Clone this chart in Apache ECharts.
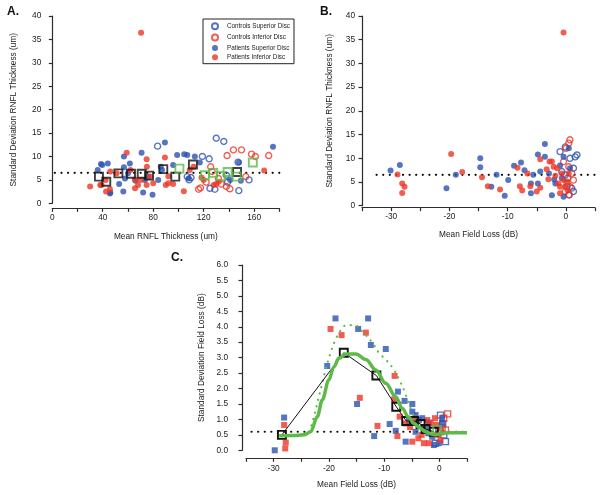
<!DOCTYPE html>
<html><head><meta charset="utf-8">
<script src="https://cdn.jsdelivr.net/npm/echarts@6/dist/echarts.min.js"></script>
<style>html,body{margin:0;padding:0;background:#fff}#c{width:603px;height:495px}</style>
</head><body><div id="c"></div>
<script>
// ---------- Panel A: Mean RNFL thickness vs SD RNFL thickness ----------
const A_ctrlSup = [[83.5,12.2],[107,5.7],[108.5,5.0],[119,10],[124.4,9.5],[125,3.2],[128.9,3.0],[130,13.9],[136,13.2],[138,6.0],[139,4.5],[147.3,8.8],[147.9,2.7],[156,5.0],[110,5.5]];
const A_ctrlInf = [[116,3.0],[117.5,3.3],[122,4.5],[125.6,7.8],[126.7,6.8],[131.7,5.3],[134,4.1],[138,3.6],[138.6,10.2],[140.8,3.1],[143.6,11.4],[150,11.4],[153.4,5.7],[158,10.5],[161,10.0],[171.6,10.2]];
const A_patSup = [[36,7.1],[38.6,8.4],[39.6,8.2],[44,8.5],[46,2.3],[45.7,2.1],[53,4.1],[56.3,2.5],[56.8,10.0],[56.8,7.7],[57.7,5.3],[60,6.4],[61.5,8.5],[66,4.8],[70.8,10.8],[72,2.3],[73.4,5.0],[76,5.7],[79.5,1.8],[84,5.0],[86,7.8],[89.3,13.0],[87,7.1],[95.8,8.2],[99,10.3],[104.6,10.5],[107,10.3],[108,5.3],[113,10.0],[117,8.7],[141,5.0],[148,8.7],[149.5,4.8],[175,12.1]];
const A_patInf = [[30,3.6],[38,3.9],[39,3.9],[42.3,5.0],[42.6,2.5],[45.7,3.0],[46,6.8],[51,6.4],[59,10.8],[62,7.1],[65.5,5.1],[65.6,3.2],[68,3.9],[70,5.0],[70.4,36.4],[74.8,9.4],[75,7.8],[74.8,3.9],[77.4,5.7],[80,4.3],[89.3,9.8],[90,3.9],[92,5.8],[92,4.3],[95.8,4.1],[104.3,2.6],[109,7.1],[112,7.8],[118.3,5.5],[120,5.0],[128,3.9],[130,4.1],[132,4.6],[168,7.0]];
const A_patMeans = [[37,5.7],[42.8,4.6],[52.4,6.4],[62.4,6.3],[70.9,6.3],[76.7,5.9],[88,7.3],[97.5,5.7],[111.5,8.3],[146.5,6.7]];
const A_ctrlMeans = [[100.8,7.4],[121,6.0],[127.6,6.5],[133.5,5.8],[139,6.7],[146.2,5.7],[159,8.7]];
const A_ref = [[2,6.5],[180,6.5]];
const A_xTicks = {min:0, max:180, step:20, labelEvery:40};
const A_yTicks = {min:0, max:40, step:5};

// ---------- Panel B: Mean field loss vs SD RNFL thickness ----------
const B_ctrlSup = [[-1,11.4],[-0.1,12.4],[0.7,10.0],[1.6,10.3],[1.9,10.7],[1.3,7.9],[0.2,4.0],[1.0,3.7],[1.3,3.0],[0.5,2.3],[-0.1,6.5],[-0.7,7.2],[0.3,5.8]];
const B_ctrlInf = [[0.7,13.9],[0.5,13.2],[0,12.1],[-0.4,9.3],[0.5,8.2],[1.0,6.8],[1.3,5.4],[0.7,4.0],[-0.1,3.0],[0.6,2.3],[0.2,4.7]];
const B_patSup = [[-30.1,7.4],[-28.5,8.6],[-20.5,3.7],[-18.9,6.5],[-14.7,10.0],[-14.7,8.1],[-12.8,4.0],[-11.9,6.5],[-10.5,2.1],[-9.9,5.4],[-8.9,8.4],[-7.7,9.1],[-7.1,7.5],[-6.0,4.7],[-6.0,2.6],[-5.6,6.5],[-4.8,10.8],[-4.8,4.7],[-4.4,7.2],[-3.6,13.0],[-3.6,10.3],[-2.9,6.8],[-2.4,2.2],[-1.8,4.7],[-0.4,10.3],[-0.4,1.9],[0.5,12.1],[0.7,7.9],[-1.0,8.5],[-2.0,5.5],[-0.7,5.8]];
const B_patInf = [[-28.9,6.6],[-28.1,4.7],[-27.7,4.0],[-28.1,2.7],[-19.7,10.9],[-17.8,7.1],[-14.4,6.0],[-13.4,4.1],[-11.3,3.4],[-8.3,8.0],[-7.9,4.1],[-7.5,3.2],[-6.6,6.8],[-6.1,4.1],[-5.0,3.0],[-4.4,9.8],[-4.4,3.8],[-3.3,7.7],[-3.0,5.6],[-2.8,9.3],[-2.4,9.3],[-2.1,8.2],[-1.5,7.9],[-1.3,4.7],[-1.0,4.0],[-1.0,2.6],[-0.7,6.8],[-0.4,5.4],[-0.4,36.5],[0.2,5.1],[-0.1,4.0],[0.5,6.8],[-1.8,6.3],[0.3,3.2]];
const B_ref = [[-32.5,6.5],[5,6.5]];
const B_xTicks = {min:-35, max:5, step:5, labelEvery:10};
const B_yTicks = {min:0, max:40, step:5};

// ---------- Panel C: Mean field loss vs SD field loss ----------
const C_ctrlSup = [[0.2,1.14],[0.8,0.5],[1.1,0.28],[-0.1,0.66],[-0.7,0.23],[0.6,0.85]];
const C_ctrlInf = [[1.5,1.18],[0.8,1.04],[0.5,0.73],[1.1,0.66],[0.2,0.6]];
const C_patSup = [[-29.8,0.0],[-28.1,1.06],[-20.3,2.73],[-18.8,4.27],[-14.7,3.93],[-12.9,4.27],[-12.4,3.41],[-9.7,3.28],[-14.9,1.5],[-11.8,0.46],[-9.0,0.85],[-7.5,1.9],[-7.9,0.63],[-6.3,1.6],[-6.1,0.28],[-4.9,1.5],[-4.9,1.25],[-4.3,1.14],[-4.3,0.6],[-3.7,0.98],[-3.1,1.04],[-2.5,0.71],[-1.9,0.9],[-1.3,0.44],[-1.0,0.17],[0.5,1.04],[0.5,0.87],[-0.1,0.23],[-5.5,0.95],[-2.0,0.55]];
const C_patInf = [[-28.1,0.82],[-27.8,0.25],[-27.9,0.06],[-19.7,3.93],[-17.7,3.73],[-13.3,3.81],[-14.4,1.7],[-11.2,0.79],[-8.1,2.41],[-7.6,0.46],[-8.2,1.65],[-7.2,1.09],[-6.1,0.87],[-4.9,0.28],[-4.6,1.0],[-3.8,0.39],[-3.2,0.5],[-2.8,0.23],[-2.2,0.98],[-1.6,0.87],[-0.8,1.04],[-0.6,0.82],[-0.4,0.5],[-1.9,0.23],[0.2,0.33],[-5.3,0.75]];
const C_means = [[-28.5,0.5],[-17.3,3.16],[-11.4,2.42],[-7.8,1.41],[-6.0,0.95],[-4.6,0.95],[-3.4,0.85],[-2.5,0.69],[-1.0,0.6]];
const C_ctrlMean = [[-0.4,0.66]];
const C_fit = [[-29,0.47],[-26.5,0.48],[-24.5,0.5],[-23.3,0.6],[-22.1,1.09],[-21.2,1.63],[-20,2.28],[-19.1,2.7],[-18.2,2.98],[-16.9,3.12],[-15.1,3.12],[-13.3,2.94],[-11.5,2.6],[-9.7,2.17],[-7.9,1.73],[-6.7,1.35],[-5.6,1.08],[-4.6,0.87],[-3.5,0.72],[-2.5,0.6],[-1.5,0.53],[-0.7,0.5],[0.3,0.55],[2,0.57],[5,0.57]];
const C_dotted = [[-23.5,0.6],[-22.7,1.1],[-22.0,1.6],[-21.3,2.1],[-20.6,2.6],[-19.8,3.1],[-19.0,3.5],[-18.0,3.85],[-16.8,4.05],[-15.4,4.05],[-14.0,3.85],[-12.2,3.5],[-10.9,3.15],[-9.5,2.9],[-8.2,2.6],[-7.3,2.3],[-6.4,1.95],[-5.6,1.55],[-4.8,1.2],[-3.8,0.9],[-2.8,0.72],[-1.5,0.62]];
const C_ref = [[-34,0.6],[5,0.6]];
const C_xTicks = {min:-35, max:5, step:5, labelEvery:10};
const C_yTicks = {min:0, max:6, step:0.5};

const seriesNames = ['Controls Superior Disc','Controls Inferior Disc','Patients Superior Disc','Patients Inferior Disc'];
const panelLabels = ['A.','B.','C.'];
const xNames = ['Mean RNFL Thickness (um)','Mean Field Loss (dB)','Mean Field Loss (dB)'];
const yNames = ['Standard Deviation RNFL Thickness (um)','Standard Deviation RNFL Thickness (um)','Standard Deviation Field Loss (dB)'];

// ---------- styling ----------
const BLUE = '#2a52b0', RED = '#ee3626', GREEN = '#5dba48', AX = '#332a2a', TXT = '#1a1a1a';
const FONT = 'Liberation Sans, Arial, sans-serif';

const chart = echarts.init(document.getElementById('c'), null, {renderer:'canvas'});

function xAxis(gi, t, name, offset, margin, nameGap) {
  return {
    type:'value', gridIndex:gi, min:t.min, max:t.max, interval:t.step, offset:offset,
    name:name, nameLocation:'middle', nameGap:nameGap,
    nameTextStyle:{fontFamily:FONT, fontSize:8.3, color:TXT},
    axisLine:{show:true, onZero:false, lineStyle:{color:AX, width:1.2}},
    axisTick:{show:true, length:3.5, lineStyle:{color:AX, width:1.2}},
    axisLabel:{margin:margin, fontFamily:FONT, fontSize:8.3, color:TXT,
      formatter: v => (Math.abs(v % t.labelEvery) < 1e-9 ? String(v) : '')},
    splitLine:{show:false}
  };
}
function yAxis(gi, t, name, offset, margin, nameGap, dec) {
  return {
    type:'value', gridIndex:gi, min:t.min, max:t.max, interval:t.step, offset:offset,
    name:name, nameLocation:'middle', nameGap:nameGap,
    nameTextStyle:{fontFamily:FONT, fontSize:8.3, color:TXT},
    axisLine:{show:true, onZero:false, lineStyle:{color:AX, width:1.2}},
    axisTick:{show:true, length:3.5, lineStyle:{color:AX, width:1.2}},
    axisLabel:{margin:margin, fontFamily:FONT, fontSize:8.3, color:TXT,
      formatter: v => dec ? v.toFixed(dec) : String(v)},
    splitLine:{show:false}
  };
}

function pts(gi, name, data, color, hollow, symbol) {
  return {
    type:'scatter', name:name, xAxisIndex:gi, yAxisIndex:gi, data:data, clip:false,
    symbol:symbol, symbolSize:6,
    itemStyle: hollow ? {color:'rgba(255,255,255,0)', borderColor:color, borderWidth:1.4}
                      : {color:color, borderWidth:0},
    emphasis:{disabled:true}, z:2
  };
}
function refLine(gi, data) {
  return {type:'line', xAxisIndex:gi, yAxisIndex:gi, data:data, symbol:'none', silent:true,
    lineStyle:{color:'#111', width:2.2, type:[0.1,6.5], cap:'round'}, z:1};
}
function means(gi, data, color, withLine) {
  return {type: withLine ? 'line' : 'scatter', xAxisIndex:gi, yAxisIndex:gi, data:data,
    symbol:'rect', symbolSize:8, showSymbol:true, clip:false,
    itemStyle:{color:'rgba(255,255,255,0)', borderColor:color, borderWidth:1.9},
    lineStyle: withLine ? {color:'#111', width:1} : undefined, z:5, silent:true};
}
function panelSeries(gi, cs, ci, ps, pi, symbol) {
  return [pts(gi, seriesNames[0], cs, BLUE, true, symbol), pts(gi, seriesNames[1], ci, RED, true, symbol),
          pts(gi, seriesNames[2], ps, BLUE, false, symbol), pts(gi, seriesNames[3], pi, RED, false, symbol)];
}

const series = [].concat(
  panelSeries(0, A_ctrlSup, A_ctrlInf, A_patSup, A_patInf, 'circle'),
  [refLine(0, A_ref), means(0, A_patMeans, '#111', false), means(0, A_ctrlMeans, GREEN, false)],
  panelSeries(1, B_ctrlSup, B_ctrlInf, B_patSup, B_patInf, 'circle'),
  [refLine(1, B_ref)],
  panelSeries(2, C_ctrlSup, C_ctrlInf, C_patSup, C_patInf, 'rect'),
  [refLine(2, C_ref),
   {type:'line', xAxisIndex:2, yAxisIndex:2, data:C_dotted, symbol:'none', smooth:0.4, silent:true,
    lineStyle:{color:GREEN, width:2.2, type:[0.1,6.5], cap:'round'}, z:3},
   means(2, C_means, '#111', true),
   means(2, C_ctrlMean, GREEN, false),
   {type:'line', xAxisIndex:2, yAxisIndex:2, data:C_fit, symbol:'none', smooth:0.35, smoothMonotone:'x', silent:true,
    lineStyle:{color:GREEN, width:3.5}, z:6}]
);

chart.setOption({
  animation:false,
  backgroundColor:'#fff',
  grid:[
    {left:52.3, top:16, width:227, height:187.3},
    {left:362, top:16, width:233, height:189.7},
    {left:246, top:265, width:221, height:185.3}
  ],
  xAxis:[
    xAxis(0, A_xTicks, xNames[0], 5, 5, 24),
    xAxis(1, B_xTicks, xNames[1], 2, 5, 23),
    xAxis(2, C_xTicks, xNames[2], 8, 6, 22)
  ],
  yAxis:[
    yAxis(0, A_yTicks, yNames[0], 0, 11, 35, 0),
    yAxis(1, B_yTicks, yNames[1], 0, 7, 28, 0),
    yAxis(2, C_yTicks, yNames[2], 4, 14, 36, 1)
  ],
  legend:{
    show:true, orient:'vertical', left:203, top:19,
    data: seriesNames.map(n => ({name:n, icon:'circle'})),
    itemWidth:14, itemHeight:6, itemGap:3.3,
    padding:[3.3,4,3.5,8],
    borderColor:'#222', borderWidth:1, backgroundColor:'#fff',
    textStyle:{fontFamily:FONT, fontSize:6.3, color:TXT, lineHeight:6},
    selectedMode:false
  },
  graphic:[
    {type:'text', left:7, top:6, style:{text:panelLabels[0], font:'bold 12px '+FONT, fill:'#111'}},
    {type:'text', left:320, top:6, style:{text:panelLabels[1], font:'bold 12px '+FONT, fill:'#111'}},
    {type:'text', left:171, top:252, style:{text:panelLabels[2], font:'bold 12px '+FONT, fill:'#111'}}
  ],
  series:series
});
</script></body></html>
